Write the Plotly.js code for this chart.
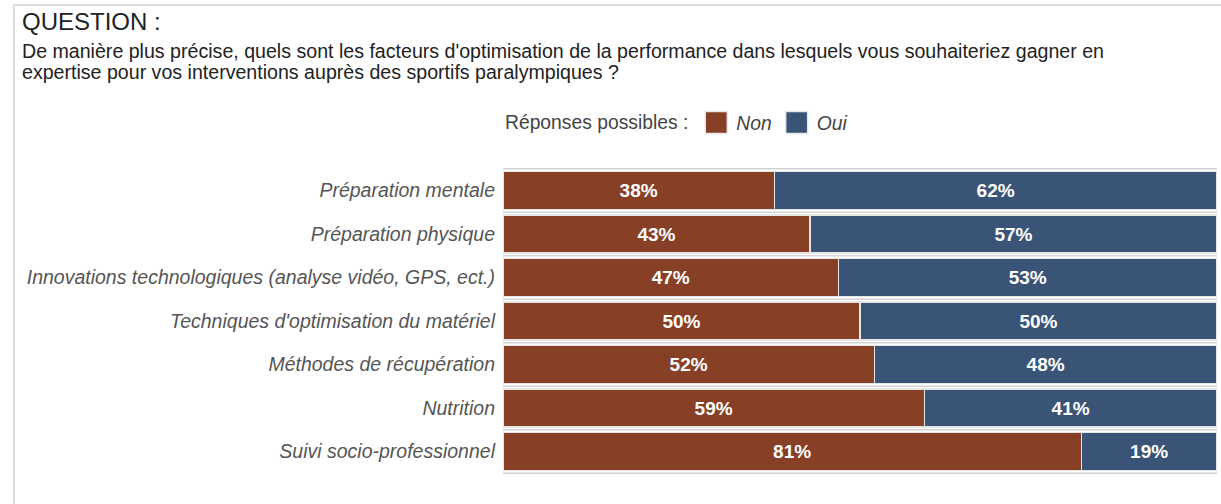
<!DOCTYPE html>
<html>
<head>
<meta charset="utf-8">
<script src="https://cdn.plot.ly/plotly-3.0.1.min.js"></script>
<style>
  html, body { margin: 0; padding: 0; background: #fff; }
  #frame { position: absolute; left: 13px; top: 4px; width: 1208px; height: 500px;
           border-top: 2px solid #dcdcdc; border-left: 2px solid #dcdcdc; box-sizing: border-box; }
  #chart { position: absolute; left: 0; top: 0; width: 1221px; height: 504px; }
</style>
</head>
<body>
<div id="frame"></div>
<div id="chart"></div>
<script>
const categories = [
  "Préparation mentale",
  "Préparation physique",
  "Innovations technologiques (analyse vidéo, GPS, ect.)",
  "Techniques d'optimisation du matériel",
  "Méthodes de récupération",
  "Nutrition",
  "Suivi socio-professionnel"
];
const nonValues = [38, 43, 47, 50, 52, 59, 81];
const ouiValues = [62, 57, 53, 50, 48, 41, 19];
const seriesNames = ["Non", "Oui"];
const seriesColors = ["#873f26", "#3a5478"];
const questionLines = [
  "De manière plus précise, quels sont les facteurs d'optimisation de la performance dans lesquels vous souhaiteriez gagner en",
  "expertise pour vos interventions auprès des sportifs paralympiques ?"
];

const FONT = "Liberation Sans, Arial, sans-serif";
const barFont = { family: FONT, size: 19, color: "#ffffff" };

function makeTrace(name, values, color) {
  return {
    type: "bar",
    orientation: "h",
    name: name,
    y: categories,
    x: values,
    text: values.map(v => "<b>" + v + "%</b>"),
    textposition: "inside",
    insidetextanchor: "middle",
    textfont: barFont,
    marker: { color: color, line: { color: "#e6e6e6", width: 1.5 } },
    hoverinfo: "y+x+name"
  };
}

const traces = [
  makeTrace(seriesNames[0], nonValues, seriesColors[0]),
  makeTrace(seriesNames[1], ouiValues, seriesColors[1])
];

// Row separator lines at category boundaries
const shapes = [];
for (let i = 0; i <= categories.length; i++) {
  shapes.push({
    type: "line", xref: "paper", yref: "y",
    x0: 0, x1: 1, y0: i - 0.5, y1: i - 0.5,
    line: { color: "#d4d4d4", width: 1.5 }, layer: "below"
  });
}

const annotations = questionLines.map((line, i) => ({
  text: line,
  xref: "paper", yref: "paper",
  x: (20 - 503) / 714, y: (474 - (38 + i * 20.5)) / 306,
  xanchor: "left", yanchor: "top", align: "left",
  showarrow: false,
  font: { family: FONT, size: 19.6, color: "#222" }
}));

const layout = {
  width: 1221, height: 504,
  margin: { l: 503, r: 4, t: 168, b: 30 },
  paper_bgcolor: "rgba(0,0,0,0)",
  plot_bgcolor: "rgba(0,0,0,0)",
  barmode: "stack",
  bargap: 0.12,
  font: { family: FONT, color: "#444" },
  title: {
    text: "QUESTION :",
    font: { family: FONT, size: 24, color: "#222" },
    xref: "container", yref: "container",
    x: 22 / 1221, xanchor: "left",
    y: 1 - 13 / 504, yanchor: "top",
    pad: { t: 0, l: 0 }
  },
  annotations: annotations,
  showlegend: true,
  legend: {
    orientation: "h",
    x: 0, xanchor: "left",
    y: (474 - 123) / 306, yanchor: "middle",
    title: { text: "Réponses possibles :", font: { family: FONT, size: 19.3, color: "#444", style: "normal" }, side: "left" },
    font: { family: FONT, size: 19.3, color: "#444", style: "italic" },
    traceorder: "normal",
    itemclick: false, itemdoubleclick: false
  },
  xaxis: {
    range: [0, 100],
    showgrid: false, zeroline: false, showticklabels: false, showline: false,
    fixedrange: true
  },
  yaxis: {
    type: "category",
    categoryorder: "array", categoryarray: categories,
    autorange: "reversed",
    showgrid: false, zeroline: false, showline: false,
    ticks: "", ticklabelstandoff: 7,
    tickfont: { family: FONT, size: 19.5, color: "#555", style: "italic" },
    fixedrange: true
  },
  shapes: shapes
};

function enlargeSwatches(gd) {
  gd.querySelectorAll(".legend .legendpoints path").forEach(p => {
    p.setAttribute("d", "M11,11H-11V-11H11Z");
  });
}

Plotly.newPlot("chart", traces, layout, { displayModeBar: false }).then(gd => {
  enlargeSwatches(gd);
  gd.on("plotly_afterplot", () => enlargeSwatches(gd));
});
</script>
</body>
</html>
